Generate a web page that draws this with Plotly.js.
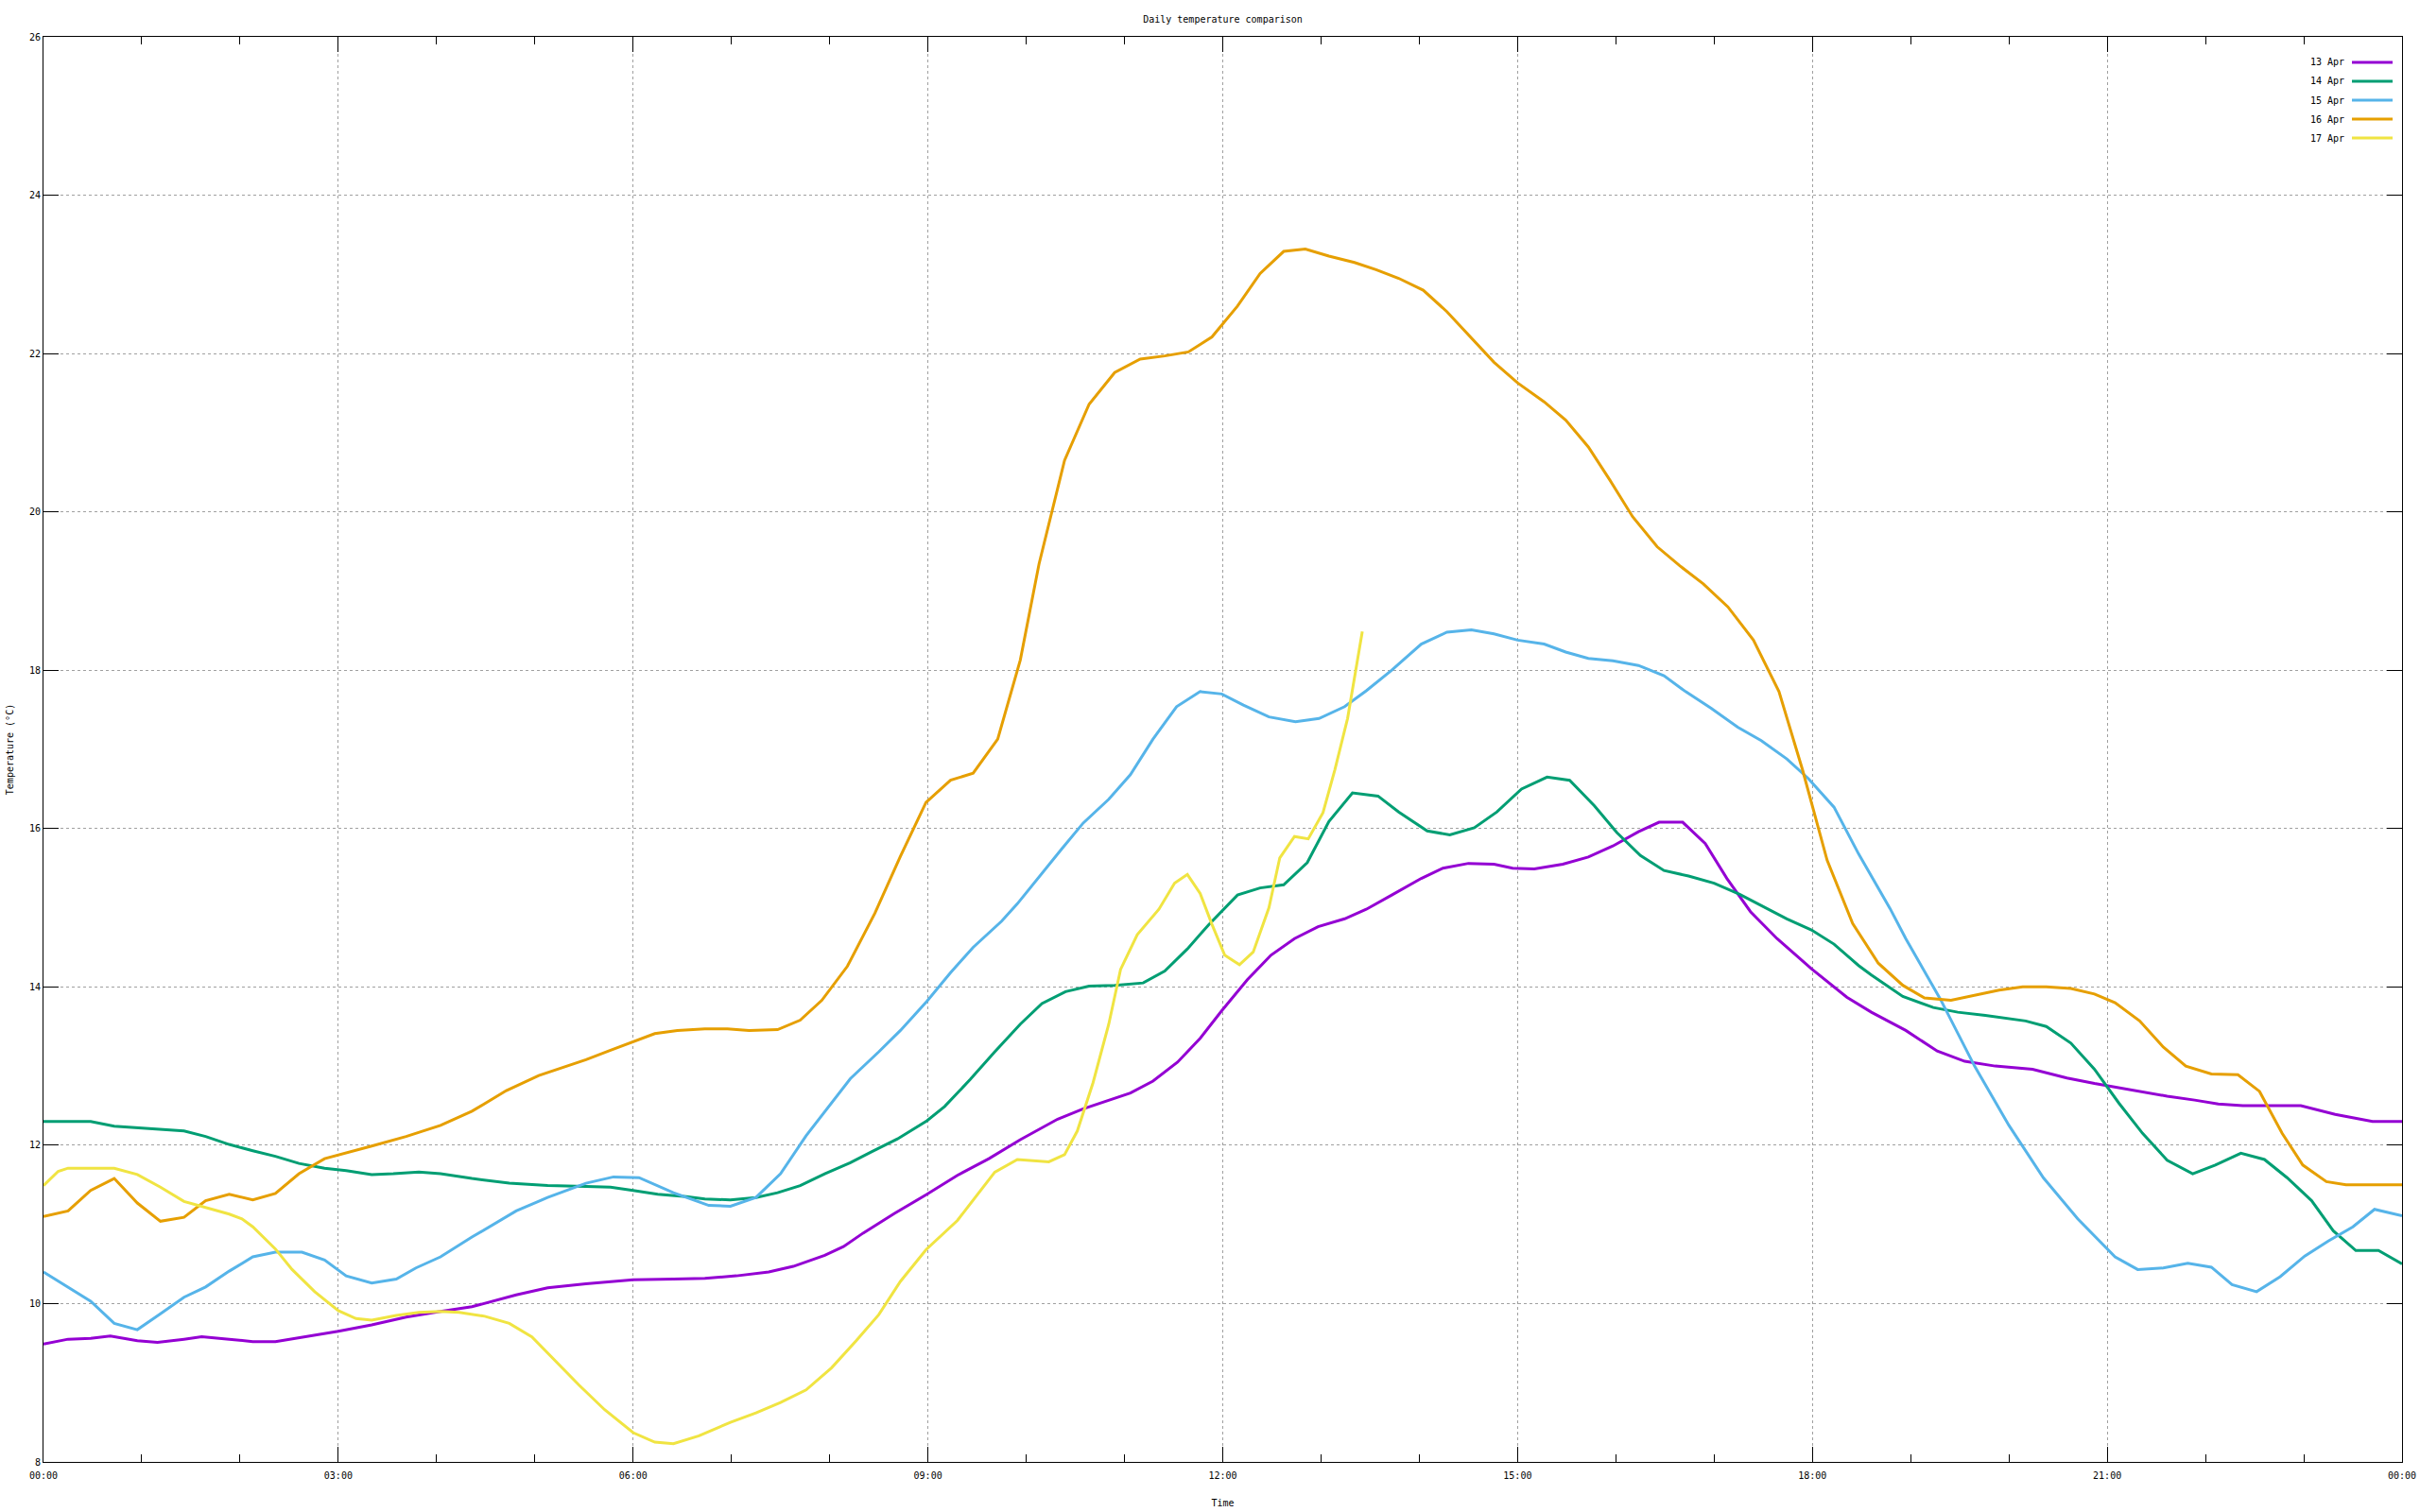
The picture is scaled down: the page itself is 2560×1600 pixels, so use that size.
<!DOCTYPE html>
<html><head><meta charset="utf-8">
<script src="https://cdn.plot.ly/plotly-3.0.1.min.js"></script>
<style>html,body{margin:0;padding:0;background:#fff}#chart{width:2560px;height:1600px}</style>
</head><body><div id="chart"></div>
<script>
const seriesNames = ['13 Apr','14 Apr','15 Apr','16 Apr','17 Apr'];
const seriesColors = ['#9400d3','#009e73','#56b4e9','#e69f00','#f0e442'];

const apr13Hours = [0,0.25,0.48,0.68,0.955,1.16,1.43,1.61,1.89,2.13,2.36,2.60,3.0,3.34,3.69,4.04,4.36,4.81,5.13,5.52,5.77,6.0,6.41,6.73,7.05,7.38,7.63,7.95,8.14,8.34,8.66,8.99,9.30,9.62,9.94,10.32,10.58,10.84,11.06,11.29,11.54,11.77,11.99,12.25,12.49,12.73,12.97,13.24,13.46,13.72,14.02,14.24,14.50,14.76,14.95,15.17,15.46,15.72,15.97,16.23,16.44,16.68,16.91,17.13,17.37,17.64,17.99,18.35,18.60,18.95,19.27,19.55,19.86,20.24,20.59,20.87,21.36,21.61,21.89,22.13,22.38,22.97,23.32,23.70,24.0];
const apr13Temps = [9.49,9.55,9.56,9.59,9.53,9.51,9.55,9.58,9.55,9.52,9.52,9.57,9.65,9.73,9.83,9.90,9.96,10.11,10.20,10.25,10.28,10.30,10.31,10.32,10.35,10.40,10.47,10.61,10.72,10.89,11.14,11.38,11.62,11.83,12.07,12.33,12.46,12.57,12.66,12.81,13.05,13.35,13.70,14.09,14.40,14.61,14.76,14.86,14.98,15.16,15.37,15.50,15.56,15.55,15.50,15.49,15.55,15.64,15.78,15.96,16.08,16.08,15.81,15.37,14.95,14.61,14.23,13.87,13.68,13.45,13.19,13.06,13.00,12.96,12.85,12.78,12.67,12.62,12.57,12.52,12.50,12.50,12.39,12.30,12.30];

const apr14Hours = [0,0.48,0.72,0.955,1.19,1.43,1.65,1.89,2.13,2.36,2.60,2.86,3.08,3.34,3.56,3.82,4.04,4.36,4.74,5.13,5.52,5.77,6.0,6.25,6.54,6.73,6.99,7.25,7.47,7.70,7.95,8.21,8.43,8.69,8.99,9.17,9.43,9.68,9.94,10.16,10.40,10.64,10.90,11.19,11.41,11.64,11.86,12.15,12.38,12.62,12.86,13.08,13.32,13.58,13.79,14.08,14.31,14.56,14.79,15.04,15.30,15.53,15.78,16.01,16.25,16.49,16.74,17.0,17.26,17.51,17.74,17.99,18.22,18.47,18.60,18.92,19.23,19.48,19.76,20.17,20.38,20.63,20.87,21.12,21.36,21.61,21.87,22.10,22.36,22.60,22.83,23.08,23.30,23.53,23.76,24.0];
const apr14Temps = [12.30,12.30,12.24,12.22,12.20,12.18,12.11,12.01,11.93,11.86,11.77,11.71,11.68,11.63,11.64,11.66,11.64,11.58,11.52,11.49,11.48,11.47,11.43,11.38,11.35,11.32,11.31,11.34,11.40,11.49,11.64,11.78,11.92,12.08,12.31,12.49,12.83,13.18,13.53,13.79,13.94,14.01,14.02,14.05,14.20,14.48,14.79,15.16,15.25,15.29,15.57,16.09,16.45,16.41,16.21,15.97,15.92,16.01,16.21,16.50,16.65,16.61,16.29,15.95,15.66,15.47,15.40,15.31,15.17,15.01,14.86,14.72,14.54,14.27,14.15,13.88,13.74,13.68,13.64,13.57,13.50,13.29,12.96,12.53,12.15,11.81,11.64,11.75,11.90,11.82,11.59,11.30,10.92,10.67,10.67,10.50];

const apr15Hours = [0,0.25,0.48,0.72,0.955,1.19,1.43,1.65,1.89,2.13,2.36,2.63,2.86,3.08,3.34,3.59,3.79,4.04,4.36,4.81,5.13,5.52,5.80,6.06,6.41,6.77,6.99,7.25,7.50,7.76,8.02,8.21,8.50,8.72,8.99,9.23,9.46,9.75,9.91,10.13,10.36,10.58,10.84,11.06,11.29,11.53,11.77,11.99,12.21,12.47,12.74,12.98,13.24,13.46,13.72,14.02,14.28,14.53,14.76,15.0,15.27,15.49,15.72,15.97,16.23,16.49,16.71,16.97,17.24,17.48,17.74,17.96,18.22,18.47,18.79,18.95,19.30,19.65,20.0,20.35,20.70,21.08,21.31,21.57,21.82,22.06,22.27,22.52,22.76,23.01,23.25,23.50,23.72,24.0];
const apr15Temps = [10.40,10.21,10.03,9.75,9.67,9.87,10.08,10.21,10.41,10.59,10.65,10.65,10.55,10.35,10.26,10.31,10.45,10.59,10.84,11.17,11.34,11.52,11.60,11.59,11.40,11.24,11.23,11.34,11.64,12.12,12.53,12.84,13.18,13.45,13.82,14.18,14.50,14.83,15.05,15.39,15.74,16.07,16.37,16.68,17.13,17.54,17.73,17.70,17.56,17.41,17.35,17.39,17.54,17.74,18.00,18.33,18.48,18.51,18.46,18.38,18.33,18.23,18.15,18.12,18.06,17.93,17.73,17.52,17.28,17.11,16.88,16.63,16.27,15.68,14.99,14.61,13.85,13.00,12.25,11.59,11.07,10.59,10.43,10.45,10.51,10.46,10.24,10.15,10.34,10.60,10.79,10.97,11.19,11.11];

const apr16Hours = [0,0.25,0.48,0.72,0.955,1.19,1.43,1.65,1.89,2.13,2.36,2.60,2.86,3.08,3.34,3.69,4.04,4.36,4.71,5.04,5.52,5.77,6.0,6.22,6.45,6.73,6.96,7.18,7.47,7.70,7.92,8.18,8.46,8.72,8.98,9.23,9.46,9.71,9.94,10.13,10.39,10.64,10.90,11.16,11.41,11.65,11.89,12.15,12.38,12.62,12.84,13.08,13.34,13.56,13.79,14.04,14.28,14.53,14.76,15.0,15.27,15.49,15.72,15.94,16.17,16.42,16.65,16.89,17.14,17.40,17.66,17.90,18.15,18.41,18.67,18.92,19.14,19.41,19.65,19.90,20.14,20.38,20.63,20.87,21.08,21.33,21.57,21.80,22.06,22.33,22.55,22.78,22.99,23.23,23.43,24.0];
const apr16Temps = [11.10,11.17,11.43,11.58,11.27,11.04,11.09,11.30,11.38,11.31,11.39,11.64,11.83,11.90,11.99,12.11,12.25,12.43,12.69,12.88,13.08,13.20,13.31,13.41,13.45,13.47,13.47,13.45,13.46,13.58,13.83,14.26,14.93,15.65,16.33,16.61,16.70,17.13,18.13,19.34,20.65,21.36,21.76,21.93,21.97,22.02,22.21,22.60,23.01,23.29,23.32,23.23,23.15,23.06,22.95,22.80,22.53,22.19,21.89,21.63,21.39,21.16,20.82,20.40,19.94,19.56,19.32,19.09,18.80,18.38,17.73,16.74,15.60,14.80,14.30,14.02,13.86,13.83,13.89,13.96,14.00,14.00,13.98,13.91,13.80,13.57,13.24,13.00,12.90,12.89,12.68,12.15,11.75,11.54,11.50,11.50];

const apr17Hours = [0,0.15,0.25,0.72,0.955,1.19,1.43,1.65,1.89,2.02,2.13,2.36,2.53,2.76,3.0,3.18,3.34,3.59,3.82,4.04,4.23,4.49,4.74,4.97,5.23,5.45,5.71,6.0,6.22,6.41,6.67,6.99,7.25,7.50,7.76,8.02,8.27,8.50,8.72,8.98,9.30,9.68,9.91,10.23,10.39,10.52,10.68,10.84,10.96,11.13,11.35,11.51,11.64,11.77,11.89,12.02,12.17,12.31,12.47,12.58,12.73,12.87,13.02,13.14,13.27,13.42];
const apr17Temps = [11.49,11.67,11.71,11.71,11.63,11.47,11.29,11.21,11.13,11.07,10.97,10.69,10.43,10.15,9.91,9.81,9.79,9.85,9.89,9.90,9.89,9.84,9.75,9.58,9.25,8.97,8.66,8.37,8.25,8.23,8.33,8.50,8.62,8.75,8.91,9.19,9.53,9.86,10.28,10.68,11.05,11.66,11.82,11.79,11.88,12.18,12.79,13.53,14.22,14.66,14.98,15.31,15.42,15.18,14.79,14.40,14.28,14.44,15.00,15.63,15.90,15.87,16.20,16.74,17.39,18.49];

const xTickVals = [0,3,6,9,12,15,18,21,24];
const xTickText = ['00:00','03:00','06:00','09:00','12:00','15:00','18:00','21:00','00:00'];
const yTickVals = [8,10,12,14,16,18,20,22,24,26];
const chartTitle = 'Daily temperature comparison';
const xTitle = 'Time';
const yTitle = 'Temperature (°C)';

const hoursList = [apr13Hours, apr14Hours, apr15Hours, apr16Hours, apr17Hours];
const tempsList = [apr13Temps, apr14Temps, apr15Temps, apr16Temps, apr17Temps];

const W = 2560, H = 1600, L = 46, R = 19, T = 39, B = 53;
const plotW = W - L - R, plotH = H - T - B;
const px2x = p => (p - L) / plotW;
const px2y = p => (H - B - p) / plotH;
const FONT = 'DejaVu Sans Mono, Liberation Mono, monospace';
const FS = 10;

const traces = seriesNames.map((name, i) => ({
  type: 'scatter', mode: 'lines', name: name,
  x: hoursList[i], y: tempsList[i],
  line: {color: seriesColors[i], width: 3, shape: 'linear'},
  hoverinfo: 'skip'
}));

const annotations = seriesNames.map((name, i) => ({
  xref: 'paper', yref: 'paper', x: px2x(2482), y: px2y(66 + 20 * i),
  xanchor: 'right', yanchor: 'middle', text: name, showarrow: false,
  font: {family: FONT, size: FS, color: '#000'}
}));
const shapes = seriesNames.map((name, i) => ({
  type: 'line', xref: 'paper', yref: 'paper',
  x0: px2x(2488), x1: px2x(2531), y0: px2y(66 + 20 * i), y1: px2y(66 + 20 * i),
  line: {color: seriesColors[i], width: 3}
}));

const axisCommon = {
  ticks: 'inside', ticklen: 16, tickwidth: 1, tickcolor: '#000',
  showline: true, linecolor: '#000', linewidth: 1, mirror: 'allticks',
  showgrid: true, gridcolor: '#a0a0a0', griddash: 'dot', gridwidth: 1,
  zeroline: false, automargin: false, fixedrange: true,
  tickfont: {family: FONT, size: FS, color: '#000'}
};

const layout = {
  width: W, height: H,
  margin: {l: L, r: R, t: T, b: B, pad: 0},
  paper_bgcolor: '#fff', plot_bgcolor: '#fff',
  font: {family: FONT, size: FS, color: '#000'},
  showlegend: false,
  title: {text: chartTitle, x: 0.5, xref: 'paper', xanchor: 'center',
          y: 1 - 20 / H, yref: 'container', yanchor: 'middle',
          font: {family: FONT, size: FS, color: '#000'}},
  xaxis: Object.assign({}, axisCommon, {
    range: [0, 24], tickmode: 'array', tickvals: xTickVals, ticktext: xTickText,
    ticklabelstandoff: 5,
    minor: {tickmode: 'linear', tick0: 0, dtick: 1, ticks: 'inside', ticklen: 8, tickcolor: '#000', tickwidth: 1, showgrid: false},
    title: {text: xTitle, standoff: 20, font: {family: FONT, size: FS, color: '#000'}}
  }),
  yaxis: Object.assign({}, axisCommon, {
    range: [8, 26], tickmode: 'array', tickvals: yTickVals,
    title: {text: yTitle, standoff: 14, font: {family: FONT, size: FS, color: '#000'}}
  }),
  annotations: annotations,
  shapes: shapes
};

Plotly.newPlot('chart', traces, layout, {staticPlot: true, displayModeBar: false});
</script>
</body></html>
